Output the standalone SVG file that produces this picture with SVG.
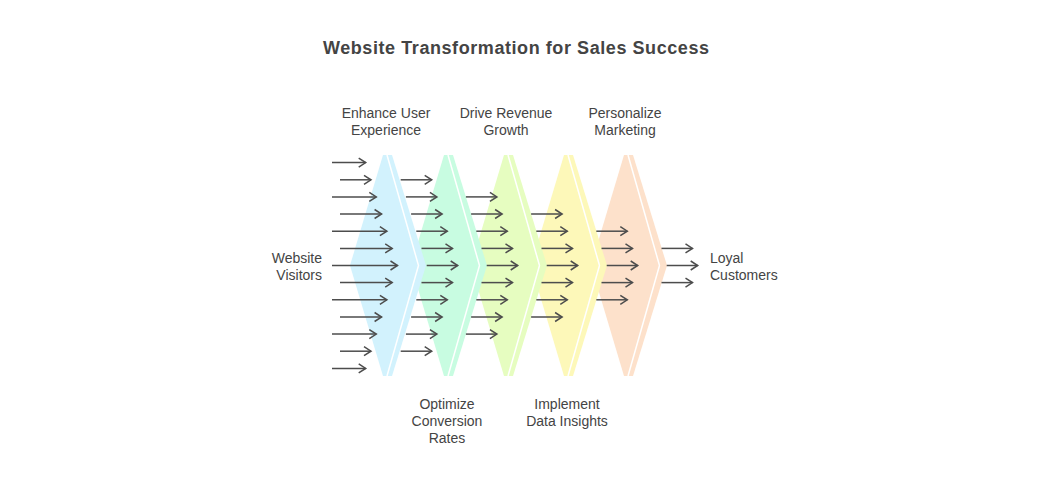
<svg xmlns="http://www.w3.org/2000/svg" width="1050" height="480" viewBox="0 0 1050 480">
<defs>
<style>
.t{font-family:"Liberation Sans",Arial,sans-serif;font-size:14px;fill:#444;}
.title{font-family:"Liberation Sans",Arial,sans-serif;font-size:18px;font-weight:bold;fill:#444;}
.ar line{stroke:#4d4d4d;stroke-width:1.5;marker-end:url(#h);}
.sep{fill:none;stroke:#fff;stroke-width:1.5;}
</style>
<marker id="h" markerUnits="userSpaceOnUse" markerWidth="12" markerHeight="12" viewBox="0 0 12 12" refX="9" refY="6" orient="auto">
<path d="M2,1.5 L9,6 L2,10.5" fill="none" stroke="#4d4d4d" stroke-width="1.5"/>
</marker>
<polygon id="chev" points="383,155 392,155 426,265.5 392,376 383,376 350,265.5"/>
<polyline id="sepl" points="387,155 418.5,265.5 387,376"/>
</defs>
<rect width="1050" height="480" fill="#fff"/>
<text class="title" x="516" y="54" text-anchor="middle" textLength="386">Website Transformation for Sales Success</text>

<g id="stage5"><use href="#chev" x="241" fill="#fde1cb"/><use href="#sepl" x="241" class="sep"/></g>
<g id="stage4"><use href="#chev" x="181" fill="#fdf8b9"/><use href="#sepl" x="181" class="sep"/></g>
<g id="stage3"><use href="#chev" x="121" fill="#e6fdc0"/><use href="#sepl" x="121" class="sep"/></g>
<g id="stage2"><use href="#chev" x="61" fill="#c8fce1"/><use href="#sepl" x="61" class="sep"/></g>
<g id="stage1"><use href="#chev" fill="#d2f2fd"/><use href="#sepl" class="sep"/></g>

<g id="connectors" class="ar">
<line x1="332" y1="162.6" x2="365.7" y2="162.6"/>
<line x1="340" y1="179.8" x2="371" y2="179.8"/>
<line x1="332" y1="196.9" x2="376.3" y2="196.9"/>
<line x1="340" y1="214" x2="381.6" y2="214"/>
<line x1="332" y1="231.2" x2="386.9" y2="231.2"/>
<line x1="340" y1="248.4" x2="392.2" y2="248.4"/>
<line x1="332" y1="265.5" x2="397.5" y2="265.5"/>
<line x1="340" y1="282.6" x2="392.2" y2="282.6"/>
<line x1="332" y1="299.8" x2="386.9" y2="299.8"/>
<line x1="340" y1="317" x2="381.6" y2="317"/>
<line x1="332" y1="334.1" x2="376.3" y2="334.1"/>
<line x1="340" y1="351.2" x2="371" y2="351.2"/>
<line x1="332" y1="368.4" x2="365.7" y2="368.4"/>

<line x1="400.7" y1="179.8" x2="431.7" y2="179.8"/>
<line x1="405.9" y1="196.9" x2="436.9" y2="196.9"/>
<line x1="411.1" y1="214" x2="442.1" y2="214"/>
<line x1="416.3" y1="231.2" x2="447.3" y2="231.2"/>
<line x1="421.5" y1="248.4" x2="452.5" y2="248.4"/>
<line x1="426.7" y1="265.5" x2="457.7" y2="265.5"/>
<line x1="421.5" y1="282.6" x2="452.5" y2="282.6"/>
<line x1="416.3" y1="299.8" x2="447.3" y2="299.8"/>
<line x1="411.1" y1="317" x2="442.1" y2="317"/>
<line x1="405.9" y1="334.1" x2="436.9" y2="334.1"/>
<line x1="400.7" y1="351.2" x2="431.7" y2="351.2"/>

<line x1="465.9" y1="196.9" x2="496.9" y2="196.9"/>
<line x1="471.1" y1="214" x2="502.1" y2="214"/>
<line x1="476.3" y1="231.2" x2="507.3" y2="231.2"/>
<line x1="481.5" y1="248.4" x2="512.5" y2="248.4"/>
<line x1="486.7" y1="265.5" x2="517.7" y2="265.5"/>
<line x1="481.5" y1="282.6" x2="512.5" y2="282.6"/>
<line x1="476.3" y1="299.8" x2="507.3" y2="299.8"/>
<line x1="471.1" y1="317" x2="502.1" y2="317"/>
<line x1="465.9" y1="334.1" x2="496.9" y2="334.1"/>

<line x1="531.1" y1="214" x2="562.1" y2="214"/>
<line x1="536.3" y1="231.2" x2="567.3" y2="231.2"/>
<line x1="541.5" y1="248.4" x2="572.5" y2="248.4"/>
<line x1="546.7" y1="265.5" x2="577.7" y2="265.5"/>
<line x1="541.5" y1="282.6" x2="572.5" y2="282.6"/>
<line x1="536.3" y1="299.8" x2="567.3" y2="299.8"/>
<line x1="531.1" y1="317" x2="562.1" y2="317"/>

<line x1="596.3" y1="231.2" x2="627.3" y2="231.2"/>
<line x1="601.5" y1="248.4" x2="632.5" y2="248.4"/>
<line x1="606.7" y1="265.5" x2="637.7" y2="265.5"/>
<line x1="601.5" y1="282.6" x2="632.5" y2="282.6"/>
<line x1="596.3" y1="299.8" x2="627.3" y2="299.8"/>

<line x1="661.5" y1="248.4" x2="692.5" y2="248.4"/>
<line x1="666.7" y1="265.5" x2="697.7" y2="265.5"/>
<line x1="661.5" y1="282.6" x2="692.5" y2="282.6"/>
</g>

<g id="label-visitors"><text class="t" x="322" y="263" text-anchor="end">Website</text><text class="t" x="322" y="280" text-anchor="end">Visitors</text></g>
<g id="label-ux"><text class="t" x="386" y="118" text-anchor="middle">Enhance User</text><text class="t" x="386" y="135" text-anchor="middle">Experience</text></g>
<g id="label-revenue"><text class="t" x="506" y="118" text-anchor="middle">Drive Revenue</text><text class="t" x="506" y="135" text-anchor="middle">Growth</text></g>
<g id="label-marketing"><text class="t" x="625" y="118" text-anchor="middle">Personalize</text><text class="t" x="625" y="135" text-anchor="middle">Marketing</text></g>
<g id="label-conversion"><text class="t" x="447" y="409" text-anchor="middle">Optimize</text><text class="t" x="447" y="426" text-anchor="middle">Conversion</text><text class="t" x="447" y="443" text-anchor="middle">Rates</text></g>
<g id="label-data"><text class="t" x="567" y="409" text-anchor="middle">Implement</text><text class="t" x="567" y="426" text-anchor="middle">Data Insights</text></g>
<g id="label-customers"><text class="t" x="710" y="263">Loyal</text><text class="t" x="710" y="280">Customers</text></g>
</svg>
